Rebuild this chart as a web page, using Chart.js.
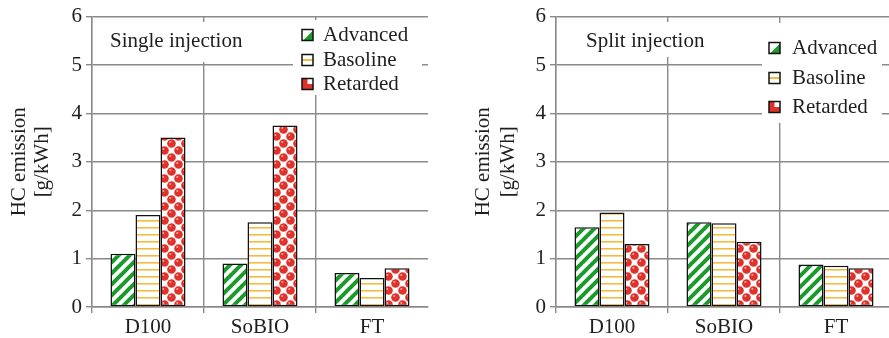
<!DOCTYPE html>
<html><head><meta charset="utf-8">
<script src="https://cdn.jsdelivr.net/npm/chart.js@4"></script>
<style>
html,body{margin:0;padding:0;background:#fff;overflow:hidden;width:889px;height:338px;position:relative}
#c1{position:absolute;left:0;top:0}
#c2{position:absolute;left:449px;top:0}
</style></head><body>
<canvas id="c1" width="444" height="338"></canvas>
<canvas id="c2" width="446" height="338"></canvas>
<script>
// ---- data ----
const categories = ['D100', 'SoBIO', 'FT'];
const seriesNames = ['Advanced', 'Basoline', 'Retarded'];
const singleAdvanced = [1.1, 0.9, 0.7];
const singleBasoline = [1.9, 1.75, 0.6];
const singleRetarded = [3.5, 3.75, 0.8];
const splitAdvanced = [1.65, 1.75, 0.88];
const splitBasoline = [1.95, 1.73, 0.85];
const splitRetarded = [1.3, 1.35, 0.8];
const yTicks = [0, 1, 2, 3, 4, 5, 6];
const yTitle = ['HC emission', '[g/kWh]'];
const panelTitles = ['Single injection', 'Split injection'];

// ---- styles ----
const FAM = "'Liberation Serif', 'Times New Roman', serif";
const FS = 21;
const GRID = '#8a8a8a';
const TXT = '#1e1e1e';
const GREEN = '#1b9a2c', ORANGE = '#f5bb3e', RED = '#e0322a';

function tile(w, h, draw) {
  const c = document.createElement('canvas');
  c.width = w; c.height = h;
  const g = c.getContext('2d');
  g.fillStyle = '#fff'; g.fillRect(0, 0, w, h);
  draw(g, w, h);
  return g.createPattern(c, 'repeat');
}
const patGreen = tile(11, 11, (g, w) => {
  g.strokeStyle = GREEN; g.lineWidth = 4;
  for (let k = -1; k <= 1; k++) {
    g.beginPath(); g.moveTo(k * w - 1, w + 1); g.lineTo(k * w + w + 1, -1); g.stroke();
  }
});
const patOrange = tile(8, 7, (g, w) => {
  g.fillStyle = ORANGE; g.fillRect(0, 3, w, 1.6);
});
const patRed = tile(14, 14, (g) => {
  for (const [cx, cy] of [[3.5, 3.5], [10.5, 10.5]]) {
    for (const dx of [-14, 0, 14]) for (const dy of [-14, 0, 14]) {
      g.fillStyle = RED;
      g.beginPath(); g.arc(cx + dx, cy + dy, 4.3, 0, Math.PI * 2); g.fill();
      g.fillStyle = '#f7b0a8';
      g.beginPath(); g.arc(cx + dx - 1.2, cy + dy - 1.5, 1.0, 0, Math.PI * 2); g.fill();
    }
  }
});
const patterns = [patGreen, patOrange, patRed];

function drawSwatch(ctx, i, x, y, s) {
  ctx.save();
  ctx.fillStyle = '#fff'; ctx.fillRect(x, y, s, s);
  if (i === 0) {
    ctx.fillStyle = GREEN;
    ctx.beginPath(); ctx.moveTo(x + s, y + 1); ctx.lineTo(x + s, y + s); ctx.lineTo(x + 1, y + s); ctx.closePath(); ctx.fill();
  } else if (i === 1) {
    ctx.fillStyle = ORANGE; ctx.fillRect(x, y + s / 2 - 1, s, 2);
  } else {
    ctx.fillStyle = RED; ctx.fillRect(x, y, s, s);
    ctx.fillStyle = '#fff'; ctx.fillRect(x + s / 2, y, s / 2, s / 2);
  }
  ctx.strokeStyle = '#111'; ctx.lineWidth = 1.5;
  ctx.strokeRect(x, y, s, s);
  ctx.restore();
}

function overlayPlugin(cfg) {
  return {
    id: 'overlay',
    beforeDatasetsDraw(chart) {
      const ctx = chart.ctx;
      ctx.save();
      ctx.fillStyle = '#fff';
      ctx.fillRect(...cfg.titleBox);
      ctx.fillRect(...cfg.legendBox);
      ctx.restore();
    },
    afterDraw(chart) {
      const ctx = chart.ctx;
      ctx.save();
      ctx.font = FS + 'px ' + FAM;
      ctx.fillStyle = TXT;
      ctx.textBaseline = 'middle';
      ctx.textAlign = 'left';
      ctx.fillText(cfg.title, cfg.titleX, cfg.titleY);
      seriesNames.forEach((n, i) => {
        const y = cfg.legY[i];
        drawSwatch(ctx, i, cfg.swX, y - 5.5, 11);
        ctx.fillStyle = TXT;
        ctx.fillText(n, cfg.legTextX, y);
      });
      ctx.restore();
    }
  };
}

function makePanel(id, values, cfg) {
  const datasets = seriesNames.map((n, i) => ({
    label: n,
    data: values[i],
    backgroundColor: patterns[i],
    borderColor: '#111',
    borderWidth: 1.5,
    borderSkipped: false,
    categoryPercentage: 0.67,
    barPercentage: 1.0
  }));
  return new Chart(document.getElementById(id), {
    type: 'bar',
    data: { labels: categories, datasets },
    options: {
      responsive: false,
      animation: false,
      events: [],
      layout: { padding: { left: 0, right: cfg.padRight, top: 16, bottom: 0 } },
      plugins: { legend: { display: false }, tooltip: { enabled: false } },
      scales: {
        x: {
          offset: true,
          grid: {
            offset: true,
            color: (c) => (c.type === 'tick' ? GRID : 'rgba(0,0,0,0)'),
            lineWidth: 1.4,
            tickLength: 6
          },
          border: { color: GRID, width: 1.4 },
          ticks: { font: { family: FAM, size: FS }, color: TXT, padding: 2 },
          afterFit: (s) => { s.height = 31; }
        },
        y: {
          min: 0, max: 6,
          afterBuildTicks: (s) => { s.ticks = yTicks.map(v => ({ value: v })); },
          afterFit: (s) => { s.width = cfg.yWidth; },
          grid: { color: GRID, lineWidth: 1.4, tickLength: 6 },
          border: { color: GRID, width: 1.4 },
          ticks: { font: { family: FAM, size: FS }, color: TXT, padding: 4 },
          title: {
            display: true, text: yTitle, color: TXT,
            font: { family: FAM, size: FS, lineHeight: cfg.titleLH },
            padding: { top: cfg.titlePad, bottom: 0 }
          }
        }
      }
    },
    plugins: [overlayPlugin(cfg)]
  });
}

makePanel('c1', [singleAdvanced, singleBasoline, singleRetarded], {
  yWidth: 92, padRight: 16, titleLH: 1.1, titlePad: 8,
  title: panelTitles[0], titleX: 110, titleY: 41,
  titleBox: [104, 22, 148, 40],
  legendBox: [293, 20, 129, 75],
  swX: 302, legTextX: 323, legY: [35, 60, 84]
});
makePanel('c2', [splitAdvanced, splitBasoline, splitRetarded], {
  yWidth: 107, padRight: 3, titleLH: 1.2, titlePad: 22,
  title: panelTitles[1], titleX: 137, titleY: 41,
  titleBox: [131, 22, 135, 35],
  legendBox: [313, 23, 120, 100],
  swX: 320, legTextX: 343, legY: [48, 78, 107]
});
</script>
</body></html>
